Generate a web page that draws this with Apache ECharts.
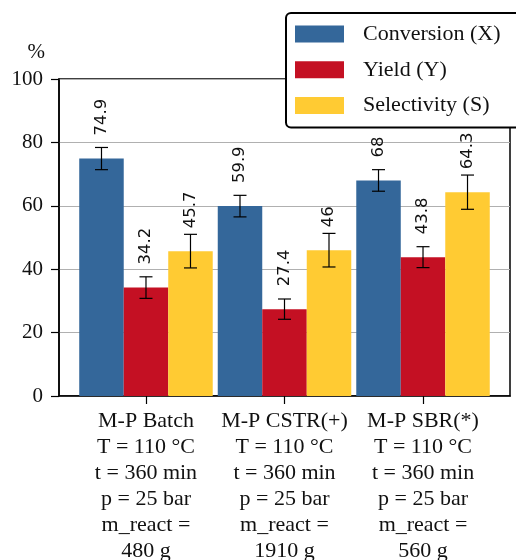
<!DOCTYPE html>
<html>
<head>
<meta charset="utf-8">
<script src="https://cdn.jsdelivr.net/npm/echarts@6/dist/echarts.min.js"></script>
<style>
    html, body { margin: 0; padding: 0; background: #fff; }
    #chart { width: 516px; height: 560px; }
</style>
</head>
<body>
<div id="chart"></div>
<script>
// data
var categories = [
    'M-P Batch\nT = 110 °C\nt = 360 min\np = 25 bar\nm_react =\n480 g',
    'M-P CSTR(+)\nT = 110 °C\nt = 360 min\np = 25 bar\nm_react =\n1910 g',
    'M-P SBR(*)\nT = 110 °C\nt = 360 min\np = 25 bar\nm_react =\n560 g'
];
var categoryPos = [0, 1, 2];
var seriesNames = ['Conversion (X)', 'Yield (Y)', 'Selectivity (S)'];
var conversion = [74.9, 59.9, 68];
var yieldValues = [34.2, 27.4, 43.8];
var selectivity = [45.7, 46, 64.3];
var conversionErr = [3.5, 3.4, 3.4];
var yieldErr = [3.4, 3.2, 3.3];
var selectivityErr = [5.3, 5.3, 5.4];
var yMin = 0, yMax = 100, yStep = 20;

var colors = ['#34679a', '#c41023', '#ffcb33'];
var BAR_W = 44.5;
var SERIF = '"Liberation Serif", "DejaVu Serif", serif';

function pairs(values) {
    return values.map(function (v, i) { return [categoryPos[i], v]; });
}

function barSeries(k, values) {
    return {
        name: seriesNames[k],
        type: 'bar',
        data: pairs(values),
        barWidth: BAR_W,
        barGap: '0%',
        itemStyle: { color: colors[k] },
        label: {
            show: true,
            position: 'top',
            distance: 23,
            rotate: 90,
            align: 'left',
            verticalAlign: 'middle',
            fontFamily: '"DejaVu Sans", sans-serif',
            fontSize: 16.5,
            color: '#111'
        }
    };
}

function errorSeries(k, values, errs) {
    return {
        name: 'err' + k,
        type: 'custom',
        silent: true,
        z: 5,
        data: values.map(function (v, i) { return [categoryPos[i], v - errs[i], v + errs[i]]; }),
        encode: { x: 0, y: [1, 2] },
        renderItem: function (params, api) {
            var lo = api.coord([api.value(0), api.value(1)]);
            var hi = api.coord([api.value(0), api.value(2)]);
            var x = lo[0] + (k - 1) * BAR_W;
            var st = { stroke: '#000', lineWidth: 1.2 };
            return {
                type: 'group',
                children: [
                    { type: 'line', shape: { x1: x, y1: lo[1], x2: x, y2: hi[1] }, style: st },
                    { type: 'line', shape: { x1: x - 6.5, y1: lo[1], x2: x + 6.5, y2: lo[1] }, style: st },
                    { type: 'line', shape: { x1: x - 6.5, y1: hi[1], x2: x + 6.5, y2: hi[1] }, style: st }
                ]
            };
        }
    };
}

var chart = echarts.init(document.getElementById('chart'));
var option = {
    animation: false,
    grid: {
        left: 59, right: 6, top: 79, bottom: 164,
        outerBoundsMode: 'none',
        containLabel: false,
        show: true, borderColor: '#000', borderWidth: 1.5, backgroundColor: 'transparent'
    },
    legend: {
        data: seriesNames,
        orient: 'vertical',
        left: 286, top: 13,
        padding: [10, 80, 11, 9],
        backgroundColor: '#fff',
        borderColor: '#000',
        borderWidth: 2,
        borderRadius: 5,
        icon: 'rect',
        itemWidth: 49,
        itemHeight: 17,
        itemGap: 13.8,
        z: 10,
        textStyle: {
            fontFamily: SERIF,
            fontSize: 22,
            lineHeight: 17,
            color: '#111',
            padding: [0, 0, 0, 14]
        }
    },
    xAxis: {
        type: 'value',
        min: -0.628,
        max: 2.628,
        splitLine: { show: false },
        axisLine: { show: true, onZero: false, lineStyle: { color: '#000', width: 1.5 } },
        axisTick: { show: true, customValues: categoryPos, length: 8, lineStyle: { color: '#000', width: 1.2 } },
        axisLabel: {
            customValues: categoryPos,
            formatter: function (v) { return categories[Math.round(v)]; },
            margin: 12,
            fontFamily: SERIF,
            fontSize: 22,
            lineHeight: 26,
            color: '#111',
            align: 'center'
        }
    },
    yAxis: {
        type: 'value',
        min: yMin, max: yMax, interval: yStep,
        name: '%',
        nameLocation: 'end',
        nameGap: 27,
        nameTextStyle: {
            fontFamily: SERIF, fontSize: 21, color: '#111',
            align: 'right', verticalAlign: 'middle', padding: [0, 14, 0, 0]
        },
        axisLine: { show: true, onZero: false, lineStyle: { color: '#000', width: 1.5 } },
        axisTick: { show: true, length: 8, lineStyle: { color: '#000', width: 1.2 } },
        axisLabel: { margin: 16, fontFamily: SERIF, fontSize: 21, color: '#111' },
        splitLine: { show: true, lineStyle: { color: '#b0b0b0', width: 1 } }
    },
    series: [
        barSeries(0, conversion),
        barSeries(1, yieldValues),
        barSeries(2, selectivity),
        errorSeries(0, conversion, conversionErr),
        errorSeries(1, yieldValues, yieldErr),
        errorSeries(2, selectivity, selectivityErr)
    ]
};
chart.setOption(option);
window.addEventListener('resize', function () {
    chart.resize();
});
</script>
</body>
</html>
